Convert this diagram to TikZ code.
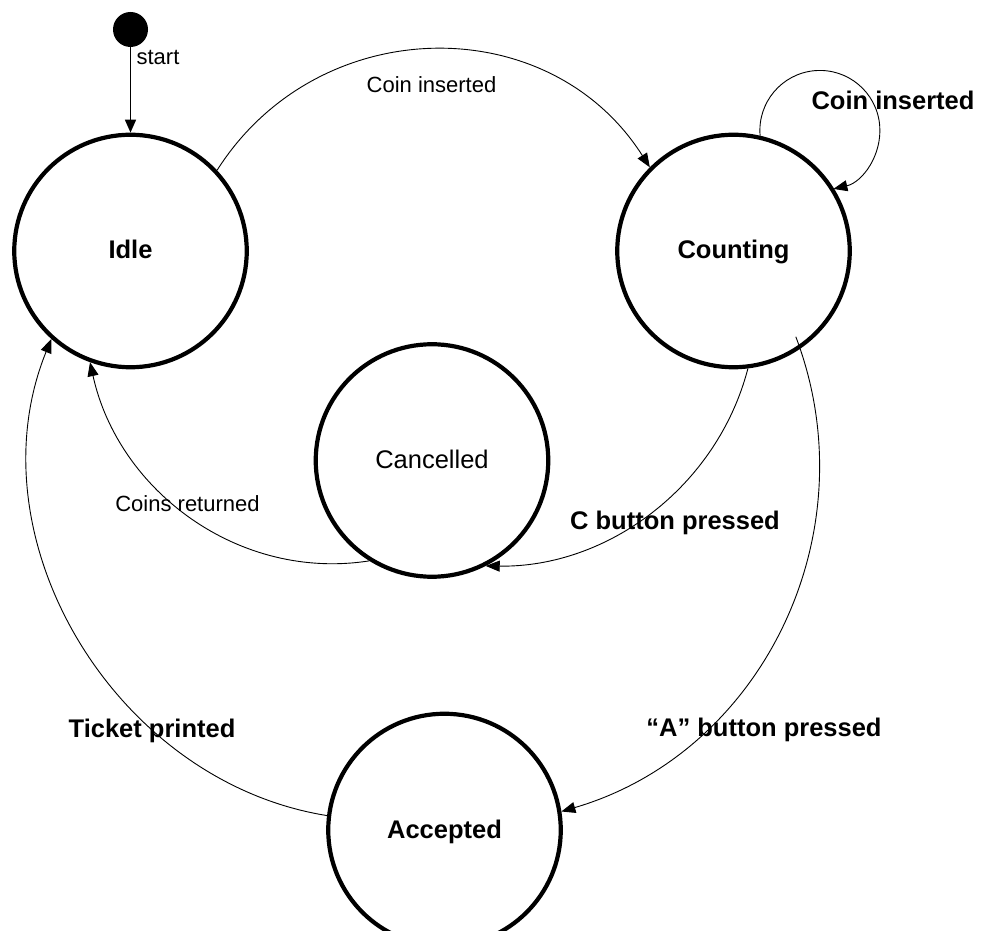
\documentclass[tikz,border=0pt]{standalone}
\usepackage{fontspec}
\setmainfont{Liberation Sans}
\usetikzlibrary{arrows.meta,calc}
\begin{document}
\begin{tikzpicture}[x=1pt,y=1pt,
  state/.style={circle,draw,line width=4.2pt,minimum size=232.5pt,inner sep=0pt,text height=16pt,text depth=0pt},
  bstate/.style={state,font=\fontsize{25.5}{30}\selectfont\bfseries},
  rstate/.style={state,font=\fontsize{25.5}{30}\selectfont},
  edge/.style={line width=0.9pt,-{Triangle[length=14pt,width=11pt]}},
  blabel/.style={anchor=base,inner sep=0pt,font=\fontsize{25.5}{30}\selectfont\bfseries},
  rlabel/.style={anchor=base,inner sep=0pt,font=\fontsize{22}{26}\selectfont},
]
\useasboundingbox (0,0) rectangle (985,930);
\clip (0,0) rectangle (985,930);
\fill[white] (0,0) rectangle (985,930);
\node[circle,fill=black,minimum size=35pt,inner sep=0pt] (start) at (130.5,900.5) {};
\node[bstate] (idle) at (130.5,679) {Idle};
\node[bstate] (counting) at (733.5,679) {Counting};
\node[rstate] (cancelled) at (432,469.5) {Cancelled};
\node[bstate] (accepted) at (444.5,100) {Accepted};

\draw[line width=1.6pt,-{Triangle[length=13pt,width=11pt]}] (start) -- (idle);
\draw[edge] (idle.43) to[out=57.6,in=122.4,looseness=1.11] (counting.135);
\draw[edge] (counting.77) arc[start angle=185,end angle=-77,radius=60];
\draw[edge] (counting.277) to[out=255.4,in=-0.8,looseness=0.953] (cancelled.297);
\draw[edge] ($(counting.center)+(-54:106)$) to[out=-69.2,in=16.3,looseness=1.014] (accepted.9);
\draw[edge] (cancelled.238) to[out=188.9,in=282.4,looseness=0.985] (idle.250);
\draw[edge] (accepted.173) to[out=170.9,in=247.95,looseness=1.0] (idle.228);

\node[rlabel] (lstart) at (158,865) {start};
\node[rlabel] (lcoin) at (431.5,837) {Coin inserted};
\node[blabel] (lloop) at (893,820) {Coin inserted};
\node[rlabel] (lret) at (187.5,418) {Coins returned};
\node[blabel] (lcbtn) at (675,400.5) {C button pressed};
\node[blabel] (labtn) at (764,193.3) {“A” button pressed};
\node[blabel] (lticket) at (152,192.7) {Ticket printed};
\end{tikzpicture}
\end{document}
